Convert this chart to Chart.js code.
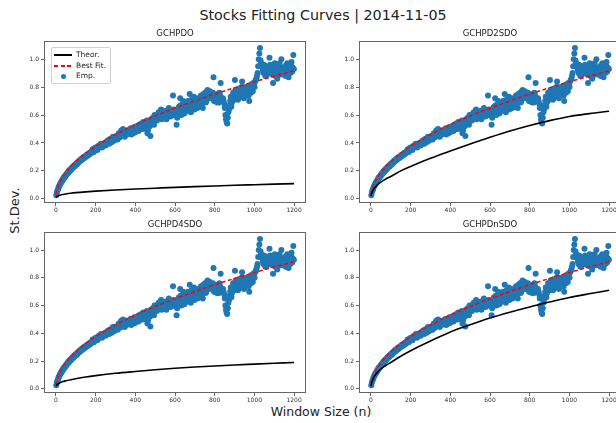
<!DOCTYPE html>
<html>
<head>
<meta charset="utf-8">
<script src="https://cdn.jsdelivr.net/npm/chart.js@4.4.0/dist/chart.umd.min.js"></script>
<style>
  body { margin: 0; width: 616px; height: 423px; overflow: hidden; background: #fff; position: relative; font-family: "DejaVu Sans", sans-serif; }
  canvas { position: absolute; }
  .txt { position: absolute; color: #222; white-space: nowrap; }
  #legend { position: absolute; left: 51px; top: 47px; width: 58px; height: 35px; border: 1px solid #d0d0d0; border-radius: 2px; background: rgba(255,255,255,0.85); font-size: 7.5px; color: #222; }
  #legend .row { position: absolute; left: 0; width: 58px; height: 10px; line-height: 10px; white-space: nowrap; }
  #legend .lbl { position: absolute; left: 24px; white-space: nowrap; }
  #legend .seg { position: absolute; top: 4px; height: 2px; }
</style>
</head>
<body>

<div class="txt" style="left:3px;width:640px;top:7px;text-align:center;font-size:14.3px;">Stocks Fitting Curves | 2014-11-05</div>
<div class="txt" style="left:-16px;top:203px;width:60px;text-align:center;font-size:13px;transform:rotate(-90deg);">St.Dev.</div>
<div class="txt" style="left:1px;width:640px;top:404px;text-align:center;font-size:12.5px;">Window Size (n)</div>

<canvas id="c0" width="296" height="193" style="left:14px;top:26px;"></canvas>
<canvas id="c1" width="296" height="193" style="left:329px;top:26px;"></canvas>
<canvas id="c2" width="296" height="192" style="left:14px;top:217px;"></canvas>
<canvas id="c3" width="296" height="192" style="left:329px;top:217px;"></canvas>

<div id="legend">
  <div class="row" style="top:2px;"><span class="seg" style="left:2px;width:18px;background:#000;"></span><span class="lbl">Theor.</span></div>
  <div class="row" style="top:12.5px;">
    <span class="seg" style="left:2px;width:4px;background:#ff0000;"></span>
    <span class="seg" style="left:8.5px;width:4px;background:#ff0000;"></span>
    <span class="seg" style="left:15px;width:4px;background:#ff0000;"></span>
    <span class="lbl">Best Fit.</span>
  </div>
  <div class="row" style="top:23px;"><span style="position:absolute;left:8.5px;top:2.5px;width:5px;height:5px;border-radius:50%;background:#1f77b4;"></span><span class="lbl">Emp.</span></div>
</div>

<script>
// --- DATA ---
const panelTitles = ['GCHPDO', 'GCHPD2SDO', 'GCHPD4SDO', 'GCHPDnSDO'];

// window sizes of the empirical points: 2, 8, 14 ... 1196 and 5, 11, 17 ... 1199
const windowsA = Array.from({ length: 200 }, (_, i) => 2 + 6 * i);
const windowsB = Array.from({ length: 200 }, (_, i) => 5 + 6 * i);

// empirical st.dev. (same stock data in every panel)
const empiricalA = [
  0.025, 0.06, 0.085, 0.105, 0.12, 0.135, 0.15, 0.16, 0.172, 0.183,
  0.195, 0.205, 0.213, 0.222, 0.232, 0.238, 0.248, 0.255, 0.262, 0.27,
  0.28, 0.285, 0.292, 0.3, 0.303, 0.312, 0.318, 0.322, 0.33, 0.334,
  0.342, 0.35, 0.345, 0.36, 0.37, 0.362, 0.375, 0.39, 0.38, 0.385,
  0.39, 0.4, 0.395, 0.41, 0.405, 0.42, 0.415, 0.43, 0.425, 0.44,
  0.435, 0.45, 0.44, 0.465, 0.455, 0.48, 0.5, 0.47, 0.485, 0.46,
  0.47, 0.495, 0.48, 0.46, 0.5, 0.49, 0.475, 0.51, 0.5, 0.485,
  0.52, 0.5, 0.535, 0.55, 0.515, 0.54, 0.56, 0.49, 0.53, 0.45,
  0.55, 0.58, 0.53, 0.565, 0.6, 0.575, 0.62, 0.59, 0.64, 0.6,
  0.61, 0.58, 0.63, 0.6, 0.62, 0.64, 0.59, 0.615, 0.74, 0.6,
  0.6, 0.53, 0.63, 0.66, 0.72, 0.6, 0.64, 0.68, 0.62, 0.66,
  0.65, 0.69, 0.75, 0.62, 0.67, 0.7, 0.64, 0.72, 0.66, 0.69,
  0.67, 0.7, 0.72, 0.65, 0.73, 0.76, 0.7, 0.78, 0.74, 0.77,
  0.75, 0.72, 0.87, 0.7, 0.73, 0.69, 0.72, 0.76, 0.83, 0.71,
  0.72, 0.68, 0.6, 0.55, 0.58, 0.64, 0.7, 0.66, 0.72, 0.74,
  0.85, 0.74, 0.77, 0.72, 0.78, 0.75, 0.84, 0.79, 0.73, 0.8,
  0.76, 0.8, 0.7, 0.78, 0.82, 0.77, 0.81, 0.84, 0.86, 0.9,
  1.0, 1.08, 0.97, 0.94, 0.9, 0.92, 0.95, 0.89, 0.93, 1.01,
  0.9, 0.93, 0.83, 0.95, 0.88, 0.92, 0.96, 0.9, 0.94, 1.0,
  0.92, 0.89, 0.95, 0.9, 0.97, 0.87, 0.93, 0.96, 0.91, 1.03
];
const empiricalB = [
  0.045, 0.07, 0.09, 0.106, 0.12, 0.134, 0.147, 0.158, 0.17, 0.18,
  0.19, 0.2, 0.208, 0.218, 0.226, 0.234, 0.242, 0.248, 0.258, 0.265,
  0.272, 0.28, 0.286, 0.292, 0.3, 0.305, 0.31, 0.318, 0.322, 0.33,
  0.355, 0.335, 0.365, 0.368, 0.35, 0.38, 0.372, 0.395, 0.368, 0.39,
  0.4, 0.382, 0.412, 0.42, 0.395, 0.43, 0.405, 0.445, 0.415, 0.43,
  0.45, 0.425, 0.47, 0.44, 0.49, 0.455, 0.475, 0.445, 0.49, 0.47,
  0.49, 0.465, 0.505, 0.49, 0.47, 0.515, 0.48, 0.52, 0.495, 0.53,
  0.51, 0.54, 0.5, 0.525, 0.545, 0.5, 0.47, 0.55, 0.52, 0.57,
  0.57, 0.54, 0.6, 0.58, 0.56, 0.61, 0.6, 0.63, 0.57, 0.62,
  0.6, 0.625, 0.57, 0.61, 0.65, 0.6, 0.63, 0.6, 0.64, 0.62,
  0.62, 0.58, 0.65, 0.62, 0.67, 0.63, 0.7, 0.61, 0.65, 0.68,
  0.7, 0.63, 0.67, 0.71, 0.66, 0.73, 0.68, 0.7, 0.65, 0.72,
  0.69, 0.74, 0.68, 0.75, 0.71, 0.69, 0.77, 0.73, 0.76, 0.72,
  0.73, 0.76, 0.7, 0.74, 0.71, 0.75, 0.69, 0.74, 0.72, 0.7,
  0.7, 0.65, 0.57, 0.54, 0.62, 0.67, 0.73, 0.69, 0.76, 0.71,
  0.78, 0.76, 0.71, 0.79, 0.74, 0.8, 0.77, 0.72, 0.78, 0.75,
  0.79, 0.74, 0.8, 0.76, 0.79, 0.83, 0.8, 0.85, 0.88, 0.95,
  1.04, 0.99, 0.95, 0.92, 0.96, 0.88, 0.91, 0.94, 0.9, 0.96,
  0.94, 0.89, 0.92, 0.97, 0.91, 0.86, 0.93, 0.97, 0.89, 0.92,
  0.9, 0.94, 0.88, 0.96, 0.92, 0.95, 0.9, 0.98, 0.94, 0.93
];

const curveN = [1, 3, 6, 10, 20, 35, 50, 75, 100, 150, 200, 300, 400, 500, 600, 700, 800, 900, 1000, 1100, 1200];

const bestFit = [0.03, 0.05, 0.066, 0.084, 0.118, 0.157, 0.187, 0.23, 0.265, 0.325, 0.375, 0.46, 0.53, 0.593, 0.65, 0.70, 0.75, 0.795, 0.838, 0.878, 0.916];

const theorD0 = [0.01, 0.014, 0.018, 0.021, 0.026, 0.031, 0.035, 0.04, 0.044, 0.05, 0.055, 0.063, 0.07, 0.076, 0.082, 0.087, 0.092, 0.097, 0.101, 0.105, 0.109];
const theorD2 = [0.02, 0.035, 0.048, 0.06, 0.08, 0.103, 0.12, 0.142, 0.16, 0.2, 0.232, 0.29, 0.342, 0.392, 0.44, 0.485, 0.525, 0.56, 0.59, 0.61, 0.627];
const theorD4 = [0.02, 0.025, 0.03, 0.035, 0.043, 0.052, 0.058, 0.066, 0.073, 0.085, 0.095, 0.112, 0.125, 0.137, 0.148, 0.157, 0.165, 0.172, 0.178, 0.184, 0.19];
const theorDn = [0.02, 0.04, 0.055, 0.068, 0.095, 0.122, 0.143, 0.168, 0.19, 0.235, 0.275, 0.345, 0.41, 0.462, 0.51, 0.552, 0.59, 0.625, 0.658, 0.685, 0.71];

const theorLines = [theorD0, theorD2, theorD4, theorDn];

const xTicks = [0, 200, 400, 600, 800, 1000, 1200];
const yTicks = [0, 0.2, 0.4, 0.6, 0.8, 1.0];

// --- CHARTS ---
const toPoints = (xs, ys) => xs.map((x, i) => ({ x: x, y: ys[i] }));
const empiricalPoints = toPoints(windowsA, empiricalA).concat(toPoints(windowsB, empiricalB));

// matplotlib-like frame round the plot area
const boxPlugin = {
    id: 'box',
    afterDraw(chart) {
        const a = chart.chartArea;
        const ctx = chart.ctx;
        ctx.save();
        ctx.strokeStyle = '#666';
        ctx.lineWidth = 1;
        ctx.strokeRect(a.left + 0.5, a.top + 0.5, a.right - a.left - 1, a.bottom - a.top - 1);
        ctx.restore();
    }
};

function renderPanel(idx) {
    const ctx = document.getElementById('c' + idx).getContext('2d');
    new Chart(ctx, {
        type: 'scatter',
        data: {
            datasets: [
                {
                    label: 'Theor.',
                    data: toPoints(curveN, theorLines[idx]),
                    showLine: true,
                    borderColor: '#000',
                    borderWidth: 1.6,
                    pointRadius: 0,
                    cubicInterpolationMode: 'monotone'
                },
                {
                    label: 'Best Fit.',
                    data: toPoints(curveN, bestFit),
                    showLine: true,
                    borderColor: '#ff0000',
                    borderWidth: 1.5,
                    borderDash: [4, 2.5],
                    pointRadius: 0,
                    cubicInterpolationMode: 'monotone'
                },
                {
                    label: 'Emp.',
                    data: empiricalPoints,
                    backgroundColor: '#1f77b4',
                    borderWidth: 0,
                    pointRadius: 3
                }
            ]
        },
        options: {
            responsive: false,
            animation: false,
            layout: { padding: { left: 0, right: 4, top: 0, bottom: 0 } },
            plugins: {
                legend: { display: false },
                tooltip: { enabled: false },
                title: {
                    display: true,
                    text: panelTitles[idx],
                    fullSize: false,
                    color: '#222',
                    font: { family: 'DejaVu Sans', size: 8.5, weight: 'normal', lineHeight: 1 },
                    padding: { top: 4, bottom: 2.5 }
                }
            },
            scales: {
                x: {
                    type: 'linear',
                    min: -60,
                    max: 1260,
                    afterFit: s => { s.height = 16; },
                    afterBuildTicks: s => { s.ticks = xTicks.map(v => ({ value: v })); },
                    grid: { drawOnChartArea: false, drawTicks: true, tickLength: 3, color: '#666' },
                    border: { display: false },
                    ticks: { padding: 1, color: '#333', font: { family: 'DejaVu Sans', size: 6 }, maxRotation: 0, callback: v => String(v) }
                },
                y: {
                    type: 'linear',
                    min: -0.03,
                    max: 1.13,
                    afterFit: s => { s.width = 30; },
                    afterBuildTicks: s => { s.ticks = yTicks.map(v => ({ value: v })); },
                    grid: { drawOnChartArea: false, drawTicks: true, tickLength: 3, color: '#666' },
                    border: { display: false },
                    ticks: { padding: 2, color: '#333', font: { family: 'DejaVu Sans', size: 6 }, callback: v => v.toFixed(1) }
                }
            }
        },
        plugins: [boxPlugin]
    });
}

[0, 1, 2, 3].forEach(renderPanel);
</script>
</body>
</html>
